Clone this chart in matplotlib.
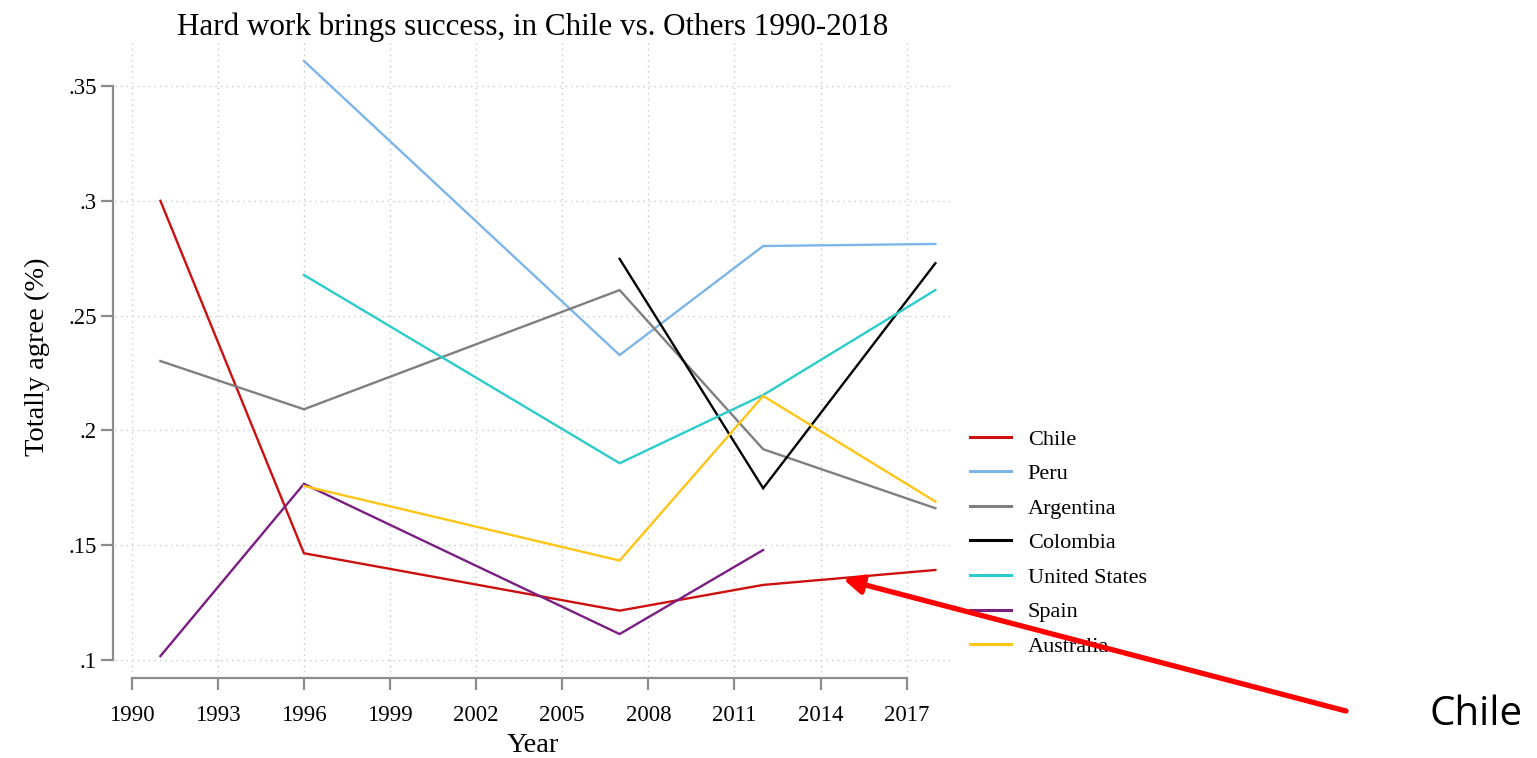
import matplotlib
matplotlib.use("Agg")
import matplotlib.pyplot as plt

plt.rcParams['font.family'] = ['Liberation Serif', 'DejaVu Serif']

# ---- data ----
title = "Hard work brings success, in Chile vs. Others 1990-2018"
xlabel = "Year"
ylabel = "Totally agree (%)"

years_chile = [1991, 1996, 2007, 2012, 2018]
chile = [0.300, 0.1465, 0.1215, 0.1327, 0.1392]

years_peru = [1996, 2007, 2012, 2018]
peru = [0.3609, 0.2328, 0.2803, 0.2812]

years_argentina = [1991, 1996, 2007, 2012, 2018]
argentina = [0.2302, 0.2092, 0.2611, 0.1918, 0.1661]

years_colombia = [2007, 2012, 2018]
colombia = [0.2747, 0.1748, 0.2728]

years_us = [1996, 2007, 2012, 2018]
united_states = [0.2677, 0.1857, 0.2154, 0.2611]

years_spain = [1991, 1996, 2007, 2012]
spain = [0.1017, 0.1767, 0.1113, 0.1479]

years_australia = [1996, 2007, 2012, 2018]
australia = [0.1758, 0.1433, 0.2150, 0.1690]

names = ["Chile", "Peru", "Argentina", "Colombia", "United States", "Spain", "Australia"]
colors = ["#CC1010", "#7DB5E8", "#7F7F7F", "#000000", "#2CCCCC", "#7A1E82", "#FFC414"]

xticks = [1990, 1993, 1996, 1999, 2002, 2005, 2008, 2011, 2014, 2017]
yticks = [0.10, 0.15, 0.20, 0.25, 0.30, 0.35]
ytick_labels = [".1", ".15", ".2", ".25", ".3", ".35"]

arrow_target = (2014.79, 0.1352)
arrow_label = "Chile"

# ---- figure ----
W, H = 1537, 758
fig = plt.figure(figsize=(W / 100, H / 100), dpi=100)
ax = fig.add_axes([115 / W, 1 - 672 / H, (950 - 115) / W, (672 - 42) / H])

series = [
    (years_chile, chile), (years_peru, peru), (years_argentina, argentina),
    (years_colombia, colombia), (years_us, united_states), (years_spain, spain),
    (years_australia, australia),
]
for (xs, ys), name, c in zip(series, names, colors):
    ax.plot(xs, ys, color=c, lw=1.7, label=name, solid_joinstyle='miter')

ax.set_xlim(1989.418, 2018.51)
ax.set_ylim(0.09477, 0.36916)

ax.set_xticks(xticks)
ax.set_xticklabels([str(x) for x in xticks])
ax.set_yticks(yticks)
ax.set_yticklabels(ytick_labels)

ax.grid(True, color='#c8c8c8', linestyle=(0, (1, 3)), linewidth=1.0)
ax.set_axisbelow(True)

for s in ['top', 'right']:
    ax.spines[s].set_visible(False)
ax.spines['left'].set_position(('outward', 1.5))
ax.spines['bottom'].set_position(('outward', 4.5))
ax.spines['left'].set_bounds(0.10, 0.35)
ax.spines['bottom'].set_bounds(1990, 2017)
for s in ['left', 'bottom']:
    ax.spines[s].set_color('#8c8c8c')
    ax.spines[s].set_linewidth(1.6)

ax.tick_params(axis='both', colors='#8c8c8c', width=1.6, length=8.5,
               labelsize=16.5, labelcolor='black')
ax.tick_params(axis='y', pad=3)
ax.tick_params(axis='x', pad=10.5)

ax.set_title(title, fontsize=22.4, pad=2)
ax.set_xlabel(xlabel, fontsize=20.5, labelpad=5)
ax.set_ylabel(ylabel, fontsize=20.5, labelpad=13)

leg = ax.legend(loc='upper left', bbox_to_anchor=(970 / W, 1 - 429 / H),
                bbox_transform=fig.transFigure, frameon=False, fontsize=16,
                handlelength=1.85, handletextpad=0.75, labelspacing=0.63,
                borderaxespad=0, borderpad=0)
for line in leg.get_lines():
    line.set_linewidth(2.2)

ann = ax.annotate('', xy=arrow_target, xycoords='data',
                  xytext=(1346, H - 711), textcoords='figure pixels',
                  arrowprops=dict(arrowstyle='-|>', color='#FF0000', lw=3.8,
                                  mutation_scale=28, shrinkA=0, shrinkB=0),
                  annotation_clip=False, zorder=20)

fig.text(1476 / W, 1 - 715 / H, arrow_label, fontsize=29, family=['Open Sans', 'DejaVu Sans'],
         ha='center', va='center')

fig.savefig("out.png", dpi=100)
